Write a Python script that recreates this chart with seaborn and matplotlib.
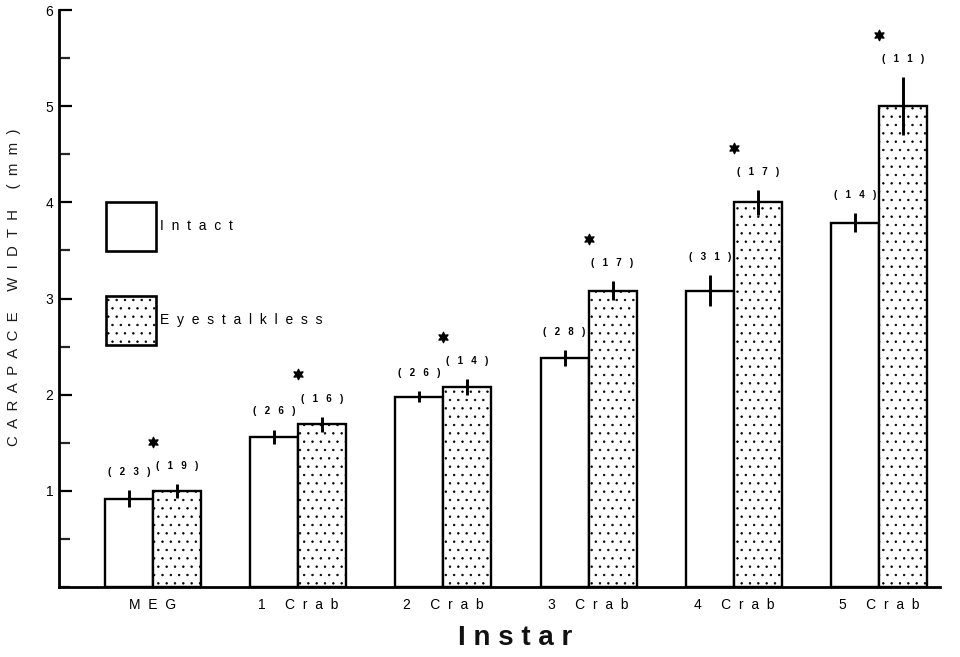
import matplotlib
matplotlib.use("Agg")
import matplotlib.pyplot as plt
from matplotlib.patches import Patch
from matplotlib.ticker import FixedLocator, MultipleLocator
import numpy as np
import pandas as pd
import seaborn as sns

# data
instars = ["MEG", "1 Crab", "2 Crab", "3 Crab", "4 Crab", "5 Crab"]
groups = ["Intact", "Eyestalkless"]
intact_mean = [0.92, 1.56, 1.98, 2.38, 3.08, 3.79]
intact_se = [0.09, 0.075, 0.06, 0.08, 0.16, 0.10]
eyeless_mean = [1.00, 1.69, 2.08, 3.08, 4.00, 5.00]
eyeless_se = [0.07, 0.08, 0.08, 0.10, 0.13, 0.30]
intact_n = [23, 26, 26, 28, 31, 14]
eyeless_n = [19, 16, 14, 17, 17, 11]


def spaced(text, gap=2):
    # old typewriter-style letter spacing
    return (" " * gap).join(text)


sns.set_theme(style="white")
plt.rcParams["font.family"] = ["Liberation Sans", "DejaVu Sans"]
plt.rcParams["hatch.linewidth"] = 0.5
plt.rcParams["text.color"] = "black"

df = pd.DataFrame({
    "instar": instars * 2,
    "group": [groups[0]] * len(instars) + [groups[1]] * len(instars),
    "width": intact_mean + eyeless_mean,
})

fig = plt.figure(figsize=(9.6, 6.57), dpi=100)
fig.patch.set_facecolor("white")
ax = fig.add_axes([59 / 960, 1 - 587 / 657, 881 / 960, 577 / 657])

sns.barplot(data=df, x="instar", y="width", hue="group", order=instars, hue_order=groups,
            palette=["white", "white"], edgecolor="black", linewidth=1.7, width=0.66,
            errorbar=None, legend=False, ax=ax)

bars = sorted(ax.patches, key=lambda p: p.get_x())
means = [m for pair in zip(intact_mean, eyeless_mean) for m in pair]
ses = [s for pair in zip(intact_se, eyeless_se) for s in pair]
ns = [n for pair in zip(intact_n, eyeless_n) for n in pair]

label_tops = []
for i, p in enumerate(bars):
    xc = p.get_x() + p.get_width() / 2
    if i % 2 == 1:
        p.set_hatch("..")
    ax.errorbar(xc, means[i], yerr=ses[i], fmt="none", ecolor="black", elinewidth=2.1, capsize=0, zorder=5)
    ytxt = means[i] + ses[i] + 0.19
    label_tops.append(ytxt)
    ax.text(xc, ytxt, spaced(f"({ns[i]})", 3), ha="center", va="center",
            fontsize=7, fontweight="bold", color="black")

# significance stars above each eyestalkless count
star_y = [label_tops[2 * k + 1] + 0.25 for k in range(len(instars))]
ax.scatter(np.arange(len(instars)), star_y, marker=(6, 1, 0), s=55, color="black", zorder=6)

ax.set_xlim(-0.647, 5.42)
ax.set_ylim(0, 6)
ax.yaxis.set_major_locator(FixedLocator([1, 2, 3, 4, 5, 6]))
ax.yaxis.set_minor_locator(MultipleLocator(0.5))
ax.tick_params(axis="y", which="major", direction="in", length=9.5, width=1.6, left=True,
               labelsize=10, pad=4, colors="black")
ax.tick_params(axis="y", which="minor", direction="in", length=8, width=1.6, left=True)
ax.tick_params(axis="x", length=0, pad=8, labelsize=10, colors="black")
ax.set_xticks(range(len(instars)))
ax.set_xticklabels([spaced(s) for s in instars])

sns.despine(ax=ax)
for side in ["left", "bottom"]:
    ax.spines[side].set_linewidth(2.0)
    ax.spines[side].set_color("black")

ax.set_xlabel(spaced("Instar", 1), fontsize=20, fontweight="bold", color="#111111", va="center")
ax.xaxis.set_label_coords((515 - 59) / 881, (587 - 638) / 577)
ax.set_ylabel(spaced("CARAPACE WIDTH (mm)"), fontsize=10.8, color="#1a1a1a", va="center")
ax.yaxis.set_label_coords((14 - 59) / 881, (587 - 287) / 577)

handles = [Patch(facecolor="white", edgecolor="black", linewidth=1.9),
           Patch(facecolor="white", edgecolor="black", linewidth=1.9, hatch="..")]
ax.legend(handles, [spaced(g) for g in groups], loc="upper left",
          bbox_to_anchor=((106 - 59) / 881, (587 - 202) / 577), frameon=False,
          fontsize=10, handlelength=3.6, handleheight=5.0, labelspacing=3.3,
          handletextpad=0.3, borderpad=0, borderaxespad=0, labelcolor="black")

fig.savefig("out.png", dpi=100, facecolor="white")
plt.close(fig)
